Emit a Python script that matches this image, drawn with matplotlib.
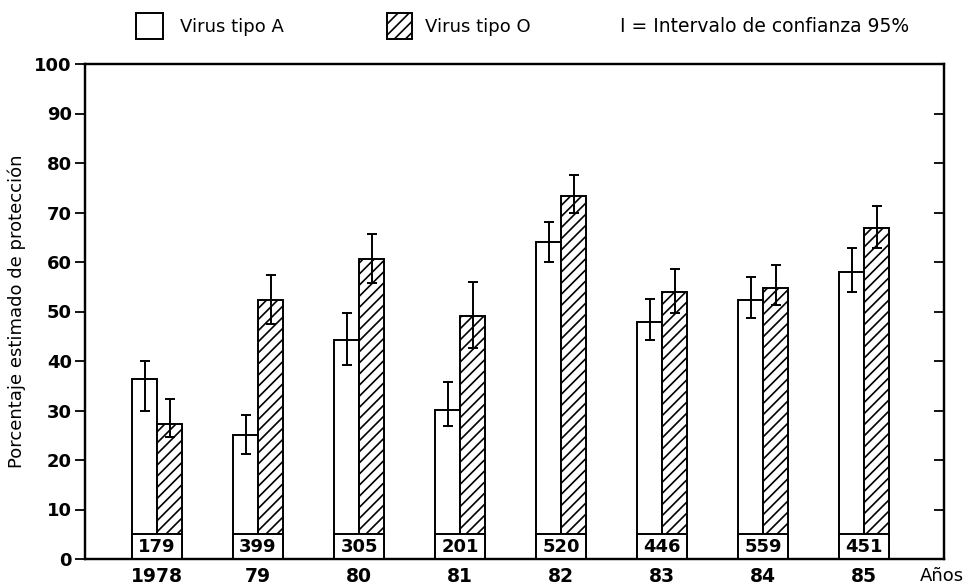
import matplotlib
matplotlib.use('Agg')
import matplotlib.pyplot as plt
import matplotlib.patches as mpatches
import numpy as np

plt.rcParams['font.family'] = ['DejaVu Sans']
plt.rcParams['hatch.linewidth'] = 1.2
plt.rcParams['hatch.color'] = 'black'

# datos
anios = ['1978', '79', '80', '81', '82', '83', '84', '85']
n_casos = [179, 399, 305, 201, 520, 446, 559, 451]
virus_a = [36.4, 25.0, 44.3, 30.2, 64.0, 47.9, 52.3, 58.0]
virus_a_inf = [30.0, 21.3, 39.2, 26.8, 60.0, 44.3, 48.7, 54.0]
virus_a_sup = [40.0, 29.0, 49.7, 35.8, 68.0, 52.5, 57.0, 62.8]
virus_o = [27.2, 52.3, 60.6, 49.1, 73.4, 53.9, 54.7, 66.8]
virus_o_inf = [24.7, 47.5, 55.7, 42.7, 70.0, 49.7, 51.3, 62.8]
virus_o_sup = [32.4, 57.3, 65.6, 55.9, 77.5, 58.6, 59.4, 71.4]
ticks_y = list(range(0, 101, 10))

W, H = 967, 587
fig = plt.figure(figsize=(W / 100, H / 100), dpi=100)
ax = fig.add_axes([85 / W, 1 - 559 / H, (944 - 85) / W, (559 - 64) / H])

x = np.arange(len(anios))
ancho = 0.248
a = np.array(virus_a)
o = np.array(virus_o)
err_a = [a - np.array(virus_a_inf), np.array(virus_a_sup) - a]
err_o = [o - np.array(virus_o_inf), np.array(virus_o_sup) - o]

ax.bar(x - ancho / 2, a, ancho, facecolor='white', edgecolor='black', linewidth=1.4, zorder=2)
ax.bar(x + ancho / 2, o, ancho, facecolor='white', edgecolor='black', linewidth=1.4,
       hatch='///', zorder=2)
ax.errorbar(x - ancho / 2, a, yerr=err_a, fmt='none', ecolor='black', elinewidth=1.4,
            capsize=3.3, capthick=1.4, zorder=3)
ax.errorbar(x + ancho / 2, o, yerr=err_o, fmt='none', ecolor='black', elinewidth=1.4,
            capsize=3.3, capthick=1.4, zorder=3)

# cajas con el numero de casos
ax.bar(x, [5] * len(x), 2 * ancho, facecolor='white', edgecolor='black', linewidth=1.4, zorder=4)
for xi, n in zip(x, n_casos):
    ax.text(xi, 2.4, str(n), ha='center', va='center', fontsize=13, fontweight='bold', zorder=5)

ax.set_xlim(-0.713, 7.79)
ax.set_ylim(0, 100)
ax.set_yticks(ticks_y)
ax.set_yticklabels([str(t) for t in ticks_y], fontsize=13, fontweight='bold')
ax.set_xticks(x)
ax.set_xticklabels(anios, fontsize=13.5, fontweight='bold')
ax.tick_params(axis='x', length=0, pad=6)
ax.tick_params(axis='y', direction='out', length=7.5, width=1.3, pad=2)
for sp in ax.spines.values():
    sp.set_linewidth(1.6)
ax.set_ylabel('Porcentaje estimado de protección', fontsize=13, labelpad=6)

ax2 = ax.twinx()
ax2.set_ylim(0, 100)
ax2.set_yticks(ticks_y[1:-1])
ax2.tick_params(axis='y', direction='in', length=7.5, width=1.3, labelright=False)
for sp in ax2.spines.values():
    sp.set_linewidth(1.6)

ax.text((920 - 85) / (944 - 85), -0.035, 'Años', transform=ax.transAxes, ha='left', va='center',
        fontsize=13)

# leyenda superior
fig.patches.append(mpatches.Rectangle((136 / W, 1 - 39 / H), 27 / W, 26 / H, transform=fig.transFigure,
                                      facecolor='white', edgecolor='black', linewidth=1.4))
fig.patches.append(mpatches.Rectangle((387 / W, 1 - 39 / H), 25 / W, 26 / H, transform=fig.transFigure,
                                      facecolor='white', edgecolor='black', linewidth=1.4, hatch='///'))
fig.text(180 / W, 1 - 27 / H, 'Virus tipo A', ha='left', va='center', fontsize=13)
fig.text(425 / W, 1 - 27 / H, 'Virus tipo O', ha='left', va='center', fontsize=13)
fig.text(620 / W, 1 - 27 / H, 'I = Intervalo de confianza 95%', ha='left', va='center', fontsize=13.5)

plt.savefig('out.png', dpi=100)
plt.close(fig)
